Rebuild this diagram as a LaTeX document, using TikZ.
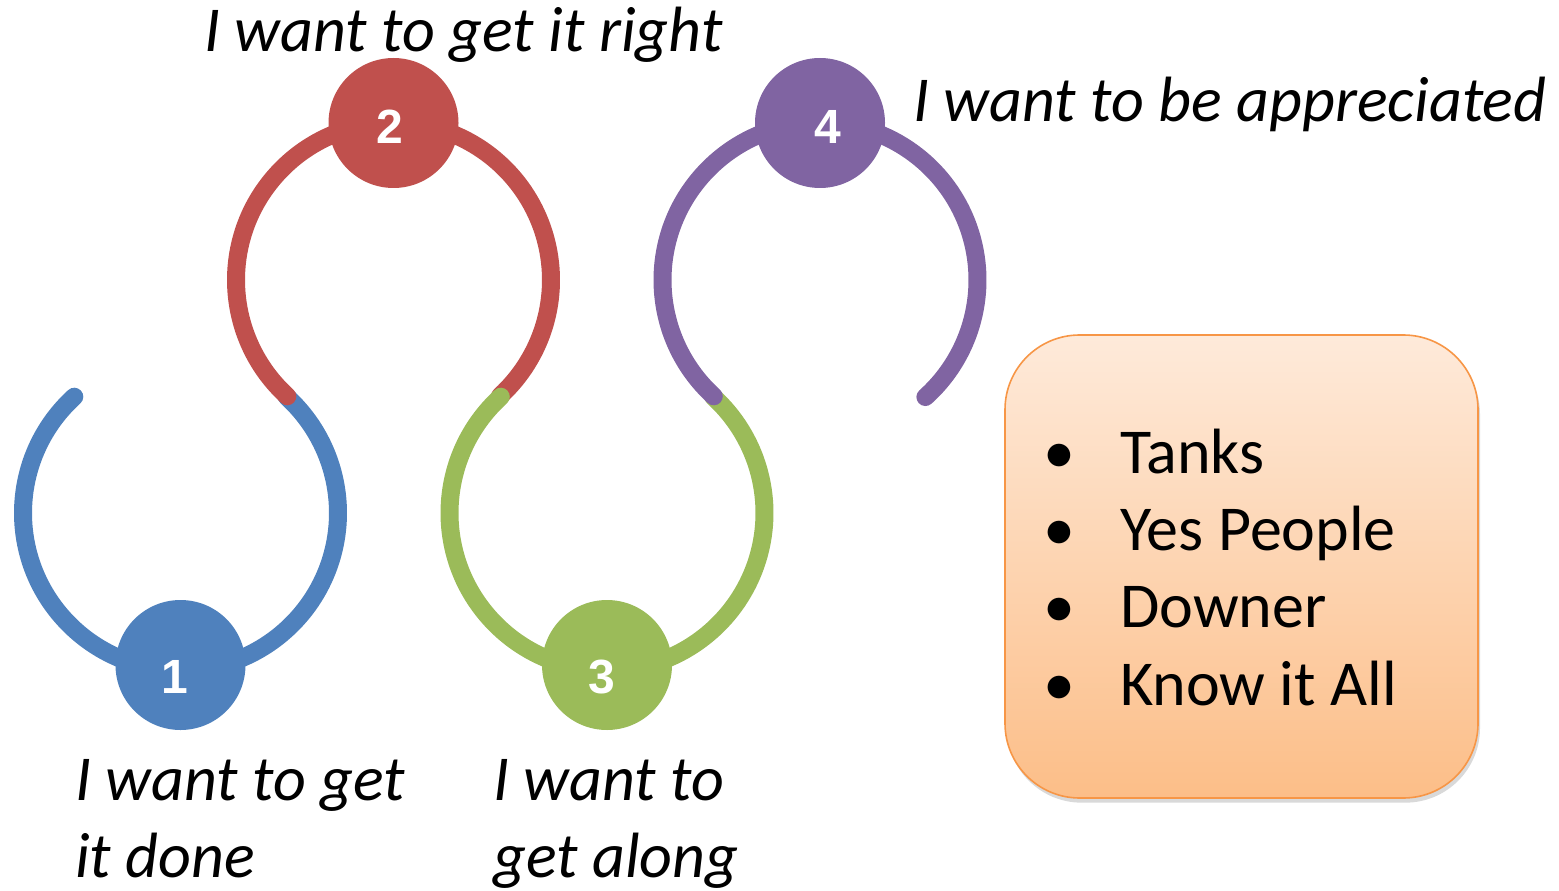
\documentclass[tikz,border=0pt]{standalone}
\usepackage{fontspec}
\setmainfont{Carlito}
\newfontfamily\numfont{Liberation Sans}
\usepackage{xcolor}
\usepackage{tikz}
\usetikzlibrary{positioning,shadows}

\definecolor{ringBlue}{RGB}{79,129,189}
\definecolor{ringRed}{RGB}{192,80,77}
\definecolor{ringGreen}{RGB}{155,187,89}
\definecolor{ringPurple}{RGB}{128,100,162}
\definecolor{boxLine}{RGB}{247,150,70}
\definecolor{boxTop}{RGB}{254,234,218}
\definecolor{boxBottom}{RGB}{252,190,136}

\begin{document}
\begin{tikzpicture}[x=0.75pt,y=0.75pt,yscale=-1,xscale=1,
  ring/.style={line width=13.5, line cap=round},
  badge/.style={circle, inner sep=0pt, minimum size=97.5pt},
  num/.style={color=white, inner sep=0pt, font=\numfont\bfseries\fontsize{36}{40}\selectfont},
  says/.style={anchor=base west, inner sep=0pt, align=left, font=\itshape\fontsize{48}{57.75}\selectfont},
  listbox/.style={draw=boxLine, line width=1.2, rounded corners=56pt, top color=boxTop, bottom color=boxBottom,
    minimum width=354.75pt, minimum height=347.25pt, drop shadow={shadow xshift=1.5pt, shadow yshift=-3.5pt, opacity=0.3}},
  item/.style={anchor=base west, inner sep=0pt, font=\fontsize{48}{58}\selectfont}]
\useasboundingbox (0,0) rectangle (1559,891);

%Centres of the rings
\coordinate (c1) at (180.5,513);
\coordinate (c2) at (393.5,280);
\coordinate (c3) at (607,513);
\coordinate (c4) at (820,280);

%Arc [blue]
\draw [ring, color=ringBlue] (c1) ++(-132.4:157.5) arc [start angle=-132.4, end angle=-407.6, radius=157.5];
%Arc [red]
\draw [ring, color=ringRed] (c2) ++(-227.6:157.5) arc [start angle=-227.6, end angle=47.4, radius=157.5];
%Arc [green]
\draw [ring, color=ringGreen] (c3) ++(-132.4:157.5) arc [start angle=-132.4, end angle=-407.6, radius=157.5];
%Arc [purple]
\draw [ring, color=ringPurple] (c4) ++(-227.6:157.5) arc [start angle=-227.6, end angle=48, radius=157.5];

%Badges
\node [badge, fill=ringBlue] (b1) at (180.5,665) {};
\node [badge, fill=ringRed] (b2) at (393.5,123) {};
\node [badge, fill=ringGreen] (b3) at (607,665) {};
\node [badge, fill=ringPurple] (b4) at (820,123) {};
\node [num] (n1) at (175,677) {1};
\node [num] (n2) at (390,127) {2};
\node [num] (n3) at (602,677) {3};
\node [num] (n4) at (828,127) {4};

% Text Node
\node [says] (lblRight) at (204,52) {I want to get it right};
% Text Node
\node [says] (lblAppr) at (913,122) {I want to be appreciated};
% Text Node
\node [says] (lblDone) at (75,877) {I want to get\\it done};
% Text Node
\node [says] (lblAlong) at (493,877) {I want to\\get along};

%Rounded box
\node [listbox] (box) at (1241.5,566.5) {};
\node [item] (itTanks) at (1120,473) {\llap{•\hspace{34pt}}Tanks};
\node [item] (itYes) at (1120,550) {\llap{•\hspace{34pt}}Yes People};
\node [item] (itDowner) at (1120,627) {\llap{•\hspace{34pt}}Downer};
\node [item] (itKnow) at (1120,705) {\llap{•\hspace{34pt}}Know it All};

\end{tikzpicture}
\end{document}
